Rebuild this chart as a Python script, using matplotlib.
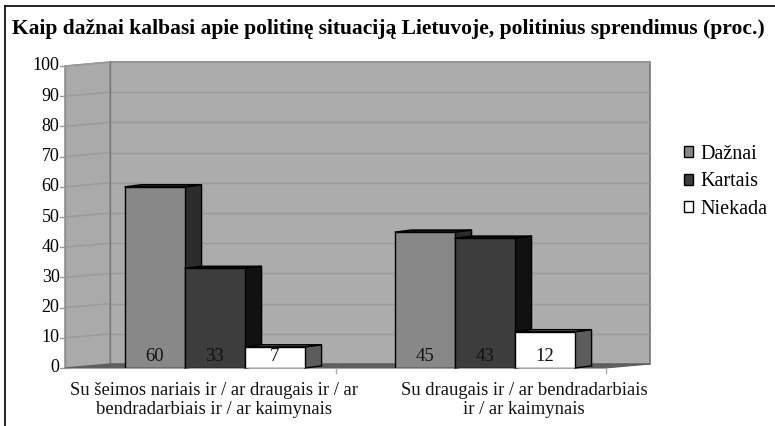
import numpy as np
import matplotlib.pyplot as plt
from matplotlib.patches import Polygon, Patch
from matplotlib.lines import Line2D

plt.rcParams['font.family'] = ['Liberation Serif', 'DejaVu Serif']

title = "Kaip dažnai kalbasi apie politinę situaciją Lietuvoje, politinius sprendimus (proc.)"
categories = ["Su šeimos nariais ir / ar draugais ir / ar\nbendradarbiais ir / ar kaimynais",
              "Su draugais ir / ar bendradarbiais\nir / ar kaimynais"]
series = ["Dažnai", "Kartais", "Niekada"]
dazna = [60, 45]
kartais = [33, 43]
niekada = [7, 12]
values = [dazna, kartais, niekada]

front_col = ['#888888', '#3d3d3d', '#ffffff']
side_col = ['#2b2b2b', '#111111', '#5c5c5c']

fig = plt.figure(figsize=(7.75, 4.26), dpi=100)
W, H = 775, 426
ax = fig.add_axes([65 / W, 58 / H, 540 / W, 302 / H])
ax.set_xlim(0, 2)
ax.set_ylim(0, 100)
ax.axis('off')

# depth of the 3d box (data units)
DX, DY = 45 / 270, 1.32
# depth of a bar
BDX, BDY = 17 / 270, 0.7
bw = 60 / 270
shift = 0.054

# walls
ax.add_patch(Polygon([(DX, DY), (2 + DX, DY), (2 + DX, 100 + DY), (DX, 100 + DY)],
                     closed=True, fc='#acacac', ec='#777777', lw=1.2, clip_on=False, zorder=1))
ax.add_patch(Polygon([(0, 0), (0, 100), (DX, 100 + DY), (DX, DY)],
                     closed=True, fc='#aaaaaa', ec='#8a8a8a', lw=1, clip_on=False, zorder=1))
ax.add_patch(Polygon([(0, 0), (2, 0), (2 + DX, DY), (DX, DY)],
                     closed=True, fc='#5e5e5e', ec='#5e5e5e', lw=0.8, clip_on=False, zorder=2))

yt = np.arange(0, 101, 10)
for v in yt[1:]:
    ax.plot([DX, 2 + DX], [v + DY, v + DY], color='#999999', lw=1, zorder=1.5, clip_on=False)
    ax.plot([0, DX], [v, v + DY], color='#999999', lw=1, zorder=1.5, clip_on=False)
ax.plot([DX, DX], [DY, 100 + DY], color='#7a7a7a', lw=1, zorder=1.6, clip_on=False)
ax.plot([0, 0], [0, 100], color='#8a8a8a', lw=1, zorder=1.6, clip_on=False)

# y ticks
for v in yt:
    ax.plot([-0.018, 0], [v, v], color='#999999', lw=1, clip_on=False)
    ax.text(-0.02, v, str(v), ha='right', va='center', fontsize=13, color='black')

# category ticks
for c in range(1, 3):
    ax.plot([c + 0.005, c + 0.005], [0, -1.8], color='#aaaaaa', lw=1, clip_on=False)

# bars
z = 3
for g in range(len(categories)):
    cx = g + 0.5 + shift
    for s in range(len(series)):
        x0 = cx + (s - 1.5) * bw
        v = values[s][g]
        ax.bar(x0, v, width=bw, align='edge', color=front_col[s], edgecolor='black', lw=1,
               zorder=z + 1)
        ax.add_patch(Polygon([(x0 + bw, 0), (x0 + bw + BDX, BDY), (x0 + bw + BDX, v + BDY), (x0 + bw, v)],
                             closed=True, fc=side_col[s], ec='black', lw=1, zorder=z, clip_on=False))
        ax.add_patch(Polygon([(x0, v), (x0 + BDX, v + BDY), (x0 + bw + BDX, v + BDY), (x0 + bw, v)],
                             closed=True, fc=side_col[s], ec='black', lw=1, zorder=z, clip_on=False))
        ax.text(x0 + bw / 2, 3.8, str(v), ha='center', va='center', fontsize=13.5, color='#111111',
                zorder=z + 2)
        z += 2

# category labels
label_x = [0.55, 1.70]
for g, lab in enumerate(categories):
    ax.text(label_x[g], -4.6, lab, ha='center', va='top', fontsize=13.4, color='#111111',
            linespacing=1.2)

# title
fig.text(388 / W, 1 - 29 / H, title, ha='center', va='center', fontsize=15.5, fontweight='bold')

# legend
handles = [Patch(fc=front_col[i], ec='black', lw=1) for i in range(3)]
fig.legend(handles, series, loc='upper left', bbox_to_anchor=(684 / W, 1 - 145 / H),
           frameon=False, fontsize=14.5, handlelength=0.45, handleheight=0.45,
           handletextpad=0.35, labelspacing=0.42, borderpad=0, borderaxespad=0)

# outer frame
fig.add_artist(Line2D([5 / W, 5 / W], [0, 1 - 6 / H], color='black', lw=1.2))
fig.add_artist(Line2D([5 / W, 1], [1 - 6 / H, 1 - 6 / H], color='black', lw=1.2))

fig.savefig('out.png', dpi=100)
